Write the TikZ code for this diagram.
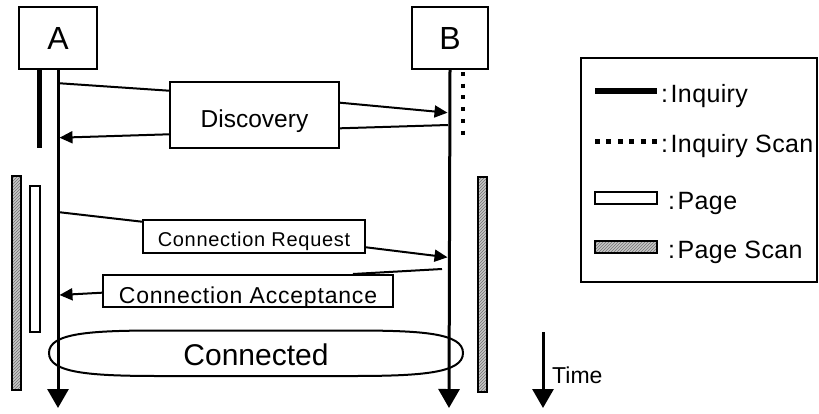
\documentclass[tikz,border=0pt]{standalone}
\usepackage{fontspec}
\setmainfont{Liberation Sans}
\newfontfamily\wide[LetterSpace=3.5]{Liberation Sans}
\newfontfamily\legf[LetterSpace=1.5]{Liberation Sans}
\usetikzlibrary{arrows.meta,patterns,calc}
\tikzset{
  box/.style={draw,line width=2pt,inner sep=0pt,fill=white},
  life/.style={line width=3pt,-{Triangle[length=19pt,width=21pt]}},
  msg/.style={line width=2pt},
  msgarrow/.style={line width=2pt,-{Triangle[length=13pt,width=12pt]}},
  hatch/.style={draw,line width=1.5pt,preaction={fill=gray!45},pattern=north east lines,pattern color=black!55},
  pagebar/.style={draw,line width=1.5pt,fill=white},
  legtext/.style={anchor=base west,inner sep=0pt,font=\legf\fontsize{25}{29}\selectfont},
}
\begin{document}
\begin{tikzpicture}[x=1pt,y=-1pt]
\useasboundingbox (0,0) rectangle (819,413);

% actors
\node[box,minimum width=78pt,minimum height=62pt,font=\fontsize{32}{36}\selectfont] (A) at (58,38) {A};
\node[box,minimum width=76pt,minimum height=62pt,font=\fontsize{32}{36}\selectfont] (B) at (450,38) {B};
\coordinate (Aend) at (58,408);
\coordinate (Bend) at (449,408);

% activity bars
\draw[line width=5.5pt] (39.5,69) -- (39.5,148);
\draw[line width=4pt,dash pattern=on 4pt off 7.7pt] (463,72) -- (463,135);
\draw[hatch] (12,176) rectangle (21,390);
\draw[pagebar] (30,186) rectangle (40,332);
\draw[hatch] (478,177) rectangle (487,392);

% Connected
\draw[line width=2pt] (49,353) .. controls (49,333) and (90,330.5) .. (160,330.5) -- (352,330.5)
  .. controls (422,330.5) and (463,333) .. (463,353)
  .. controls (463,373) and (422,376) .. (352,376) -- (160,376)
  .. controls (90,376) and (49,373) .. (49,353) -- cycle;
\node[inner sep=0pt,text height=24pt,text depth=0pt,font=\fontsize{30}{34}\selectfont] (conn) at (256,353) {Connected};

% lifelines
\draw[life] (A.south) -- (Aend);
\draw[life] (B.south) -- (Bend);

% discovery
\node[box,minimum width=169pt,minimum height=66pt,text height=24pt,text depth=0pt,font=\fontsize{24.5}{28}\selectfont] (disc) at (254.5,115) {Discovery};
\coordinate (a1) at (60,83.3);
\coordinate (b1) at (447.5,112.7);
\coordinate (b2) at (448,125);
\coordinate (a2) at (59.5,137.7);
\draw[msg] (a1) -- ($(disc.west)+(0,-24.3)$);
\draw[msgarrow] ($(disc.east)+(0,-12.3)$) -- (b1);
\draw[msg] (b2) -- ($(disc.east)+(0,13.3)$);
\draw[msgarrow] ($(disc.west)+(0,19.3)$) -- (a2);

% connection request
\node[box,minimum width=222pt,minimum height=33pt,text height=19pt,text depth=0pt,font=\wide\fontsize{20}{24}\selectfont] (req) at (254,236.5) {Connection Request};
\coordinate (a3) at (60,212.3);
\coordinate (b3) at (447.5,257.3);
\draw[msg] (a3) -- ($(req.west)+(0,-14.8)$);
\draw[msgarrow] ($(req.east)+(0,10.8)$) -- (b3);

% connection acceptance
\node[box,minimum width=290pt,minimum height=32pt,text height=24pt,text depth=0pt,font=\wide\fontsize{23}{27}\selectfont] (acc) at (248,291) {Connection Acceptance};
\coordinate (b4) at (442,269);
\coordinate (a4) at (59.5,295);
\draw[msg] (b4) -- ($(acc.north)+(105,0)$);
\draw[msgarrow] ($(acc.west)+(0,1.7)$) -- (a4);

% time
\coordinate (t0) at (543,332);
\coordinate (t1) at (543,408);
\draw[life] (t0) -- (t1);
\node[anchor=base west,inner sep=0pt,font=\fontsize{23}{27}\selectfont] (time) at (552,383) {Time};

% legend
\node[draw,line width=2pt,minimum width=236pt,minimum height=224pt,inner sep=0pt] (leg) at (699,170) {};
\draw[line width=5.5pt] (595,91) -- (657,91);
\draw[line width=5pt,dash pattern=on 5pt off 6.4pt] (595,141) -- (657,141);
\draw[pagebar] (595,192) rectangle (657,204);
\draw[hatch] (595,241) rectangle (657,253);
\node[legtext] (l1) at (661,102) {:\hspace{2.5pt}Inquiry};
\node[legtext] (l2) at (661,152) {:\hspace{2.5pt}Inquiry Scan};
\node[legtext] (l3) at (668,209) {:\hspace{2.5pt}Page};
\node[legtext] (l4) at (668,258) {:\hspace{2.5pt}Page Scan};
\end{tikzpicture}
\end{document}
